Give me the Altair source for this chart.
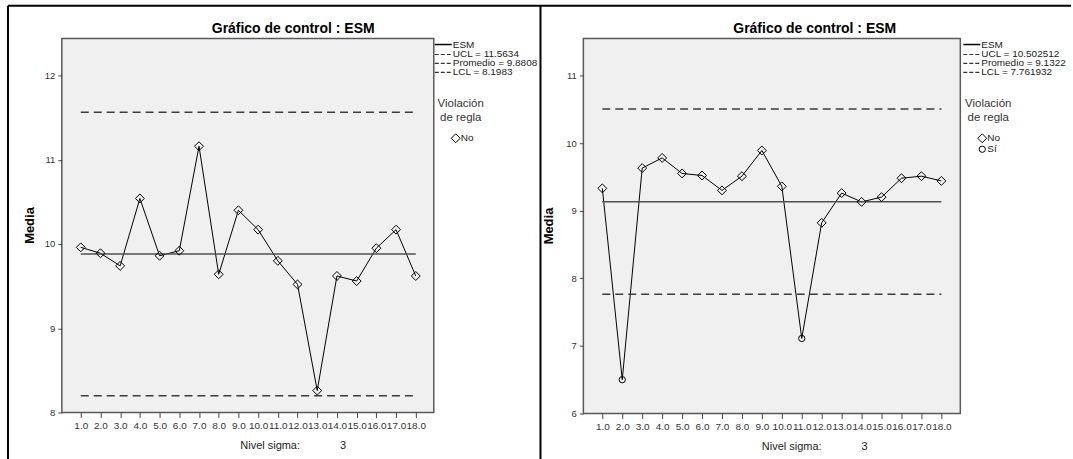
import altair as alt
import pandas as pd

FONT = "Liberation Sans"

# ---------------- data ----------------
samples = list(range(1, 19))

left_values = [9.96, 9.89, 9.74, 10.54, 9.86, 9.92, 11.16, 9.64, 10.40,
               10.17, 9.80, 9.52, 8.26, 9.62, 9.56, 9.95, 10.17, 9.62]
left_flags = ["No"] * 18
left_limits = {"UCL": 11.5634, "Promedio": 9.8808, "LCL": 8.1983}
left_labels = ["UCL = 11.5634", "Promedio = 9.8808", "LCL = 8.1983"]

right_values = [9.33, 6.50, 9.63, 9.78, 9.55, 9.52, 9.30, 9.51, 9.89,
                9.36, 7.11, 8.82, 9.26, 9.13, 9.20, 9.48, 9.51, 9.44]
right_flags = ["No", "Sí", "No", "No", "No", "No", "No", "No", "No",
               "No", "Sí", "No", "No", "No", "No", "No", "No", "No"]
right_limits = {"UCL": 10.502512, "Promedio": 9.132222, "LCL": 7.761932}
right_labels = ["UCL = 10.502512", "Promedio = 9.132222", "LCL = 7.761932"]

title_text = "Gráfico de control : ESM"
series_name = "ESM"
y_title = "Media"
sigma_label = "Nivel sigma:"
sigma_value = "3"
legend_title = ["Violación", "de regla"]

ANCHOR = pd.DataFrame({"k": [0]})


def vtext(txt, x, y, size=10, weight="normal", align="left", angle=0,
          color="#222", limit=0):
    kw = dict(text=txt, align=align, baseline="middle", fontSize=size,
              fontWeight=weight, color=color, font=FONT)
    if angle:
        kw["angle"] = angle
    if limit:
        kw["limit"] = limit
        kw["ellipsis"] = "\u200b"
    return alt.Chart(ANCHOR).mark_text(**kw).encode(
        x=alt.value(x), y=alt.value(y))


def vrule(x, x2, y, y2=None, color="black", width=1.0, dash=None):
    kw = dict(color=color, strokeWidth=width)
    if dash:
        kw["strokeDash"] = dash
    enc = dict(x=alt.value(x), x2=alt.value(x2), y=alt.value(y))
    if y2 is not None:
        enc["y2"] = alt.value(y2)
    return alt.Chart(ANCHOR).mark_rule(**kw).encode(**enc)


def panel(values, flags, limits, labels, w, h, xdom, ydom, yticks,
          leg_x, leg_sym_x, viol_cx, shapes_present, ytitle_x, extra=None):
    df = pd.DataFrame({"muestra": samples, "media": values, "viol": flags})
    xscale = alt.Scale(domain=xdom, nice=False, zero=False)
    yscale = alt.Scale(domain=ydom, nice=False, zero=False)
    xaxis = alt.Axis(values=samples, format=".1f", title=None,
                     labelOverlap=False, labelFlush=False, labelFontSize=10,
                     tickSize=5, labelPadding=3, grid=False, domain=False)
    yaxis = alt.Axis(values=yticks, format="d", title=None,
                     labelOverlap=False, tickSize=4, labelPadding=3,
                     labelFontSize=9.5, grid=False, domain=False)
    X = alt.X("muestra:Q", scale=xscale, axis=xaxis)
    Y = alt.Y("media:Q", scale=yscale, axis=yaxis)
    base = alt.Chart(df)
    line = base.mark_line(color="black", strokeWidth=1).encode(x=X, y=Y)
    pts = base.mark_point(filled=False, color="black", strokeWidth=1,
                          opacity=1).encode(
        x=X, y=Y,
        shape=alt.Shape("viol:N", scale=alt.Scale(domain=["No", "Sí"],
                        range=["diamond", "circle"]), legend=None),
        size=alt.Size("viol:N", scale=alt.Scale(domain=["No", "Sí"],
                      range=[80, 40]), legend=None))

    lim = pd.DataFrame({"name": list(limits.keys()),
                        "val": list(limits.values()),
                        "start": [samples[0]] * 3, "end": [samples[-1]] * 3})
    rules = alt.Chart(lim).mark_rule(strokeWidth=1.5).encode(
        x=alt.X("start:Q", scale=xscale, axis=xaxis),
        x2="end:Q",
        y=alt.Y("val:Q", scale=yscale, axis=yaxis),
        color=alt.Color("name:N", scale=alt.Scale(
            domain=["UCL", "Promedio", "LCL"],
            range=["#3c3c3c", "#505050", "#3c3c3c"]), legend=None),
        strokeDash=alt.StrokeDash("name:N", scale=alt.Scale(
            domain=["UCL", "Promedio", "LCL"],
            range=[[8, 5], [1, 0], [8, 5]]), legend=None))

    layers = []
    if extra is not None:
        layers += extra
    layers += [line, rules, pts]

    # title
    layers.append(vtext(title_text, 232, -10, size=14, weight="bold",
                        align="center", color="black"))
    # y title
    layers.append(vtext(y_title, ytitle_x, h / 2, size=13, weight="bold",
                        align="center", angle=270, color="black"))
    # sigma
    layers.append(vtext(sigma_label, 179, h + 34, size=11))
    layers.append(vtext(sigma_value, 282, h + 34, size=11, align="center"))

    # legend: lines
    ys = [6, 16, 25, 34]
    layers.append(vrule(leg_x, leg_x + 17, ys[0], width=1.5))
    layers.append(vtext(series_name, leg_x + 18, ys[0], size=10))
    for i, lab in enumerate(labels):
        layers.append(vrule(leg_x, leg_x + 17, ys[i + 1], width=1.2,
                            color="#333", dash=[4, 2]))
        layers.append(vtext(lab, leg_x + 18, ys[i + 1], size=10,
                            limit=(489 - leg_x - 18)))
    # legend: shapes
    layers.append(vtext(legend_title[0], viol_cx, 66, size=11.5,
                        align="center", color="#333"))
    layers.append(vtext(legend_title[1], viol_cx, 80, size=11.5,
                        align="center", color="#333"))
    sym_y = [100, 111]
    for i, (nm, shp, sz) in enumerate(zip(["No", "Sí"], ["diamond", "circle"],
                                          [80, 40])):
        if nm not in shapes_present:
            continue
        layers.append(alt.Chart(ANCHOR).mark_point(
            shape=shp, size=sz, filled=False, color="black", strokeWidth=1,
            opacity=1).encode(x=alt.value(leg_sym_x), y=alt.value(sym_y[i])))
        layers.append(vtext(nm, leg_sym_x + 5, sym_y[i], size=10))

    return alt.layer(*layers).properties(width=w, height=h)


# frame / anchor for the left panel (origin at plot-area top-left 61,37)
frame = [
    alt.Chart(ANCHOR).mark_rect(opacity=0).encode(
        x=alt.value(-61), x2=alt.value(1012), y=alt.value(-37),
        y2=alt.value(422)),
    vrule(-54, 1012, -33, width=2),
    vrule(-54, -54, -33, y2=422, width=2),
    vrule(480, 480, -33, y2=422, width=2),
]

left = panel(left_values, left_flags, left_limits, left_labels,
             373, 375, [0.0385, 18.915], [8, 12.438], [8, 9, 10, 11, 12],
             leg_x=374, leg_sym_x=395, viol_cx=400,
             shapes_present=["No"], ytitle_x=-32, extra=frame)

right = panel(right_values, right_flags, right_limits, right_labels,
              378, 376, [0.05, 18.95], [6, 11.546], [6, 7, 8, 9, 10, 11],
              leg_x=381, leg_sym_x=400, viol_cx=406,
              shapes_present=["No", "Sí"], ytitle_x=-34)

chart = alt.hconcat(left, right, spacing=150, bounds="flush").configure(
    padding=0, background="white", font=FONT
).configure_view(
    fill="#f0f0f0", stroke="#5a5a5a", strokeWidth=1.5
).configure_axis(
    labelFont=FONT, labelFontSize=9, labelColor="#333",
    tickColor="#444", tickWidth=1, labelOverlap=False
)

chart.save("out.html", embed_options={"renderer": "svg", "actions": False})
